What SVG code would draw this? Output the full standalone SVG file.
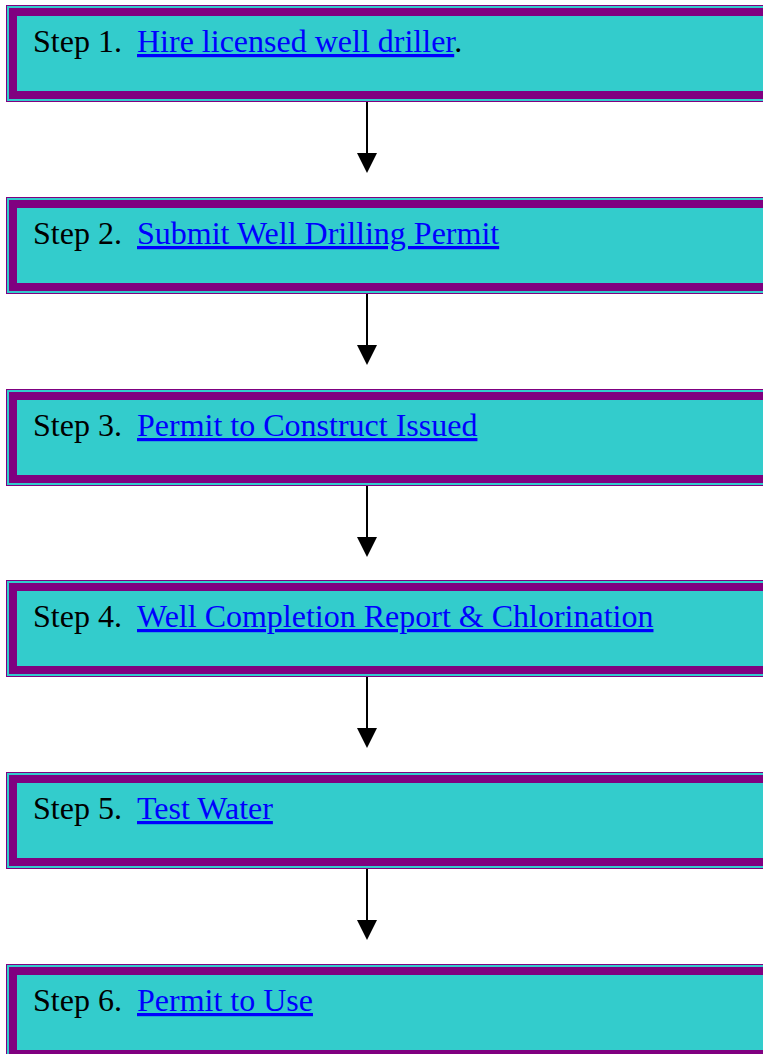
<svg xmlns="http://www.w3.org/2000/svg" width="763" height="1054" viewBox="0 0 763 1054">
<defs>
<style>
.o{fill:#800080}
.c{fill:#33CCCC}
.t{font-family:"Liberation Serif","Times New Roman",serif;font-size:32px;fill:#000}
.l{fill:#0000FF;text-decoration:underline}
.ln{stroke:#000;stroke-width:2;fill:none}
</style>
<g id="frame">
<rect class="o" x="6" y="0" width="800" height="97"/>
<rect class="c" x="7" y="1" width="800" height="95"/>
<rect class="o" x="9" y="3" width="800" height="91"/>
<rect class="c" x="17" y="11" width="800" height="75"/>
</g>
</defs>
<g id="connectors">
<line class="ln" x1="367" y1="102" x2="367" y2="155"/><polygon points="357,153 377,153 367,173"/>
<line class="ln" x1="367" y1="294" x2="367" y2="347"/><polygon points="357,345 377,345 367,365"/>
<line class="ln" x1="367" y1="486" x2="367" y2="539"/><polygon points="357,537 377,537 367,557"/>
<line class="ln" x1="367" y1="677" x2="367" y2="730"/><polygon points="357,728 377,728 367,748"/>
<line class="ln" x1="367" y1="869" x2="367" y2="922"/><polygon points="357,920 377,920 367,940"/>
</g>
<g id="step1"><use href="#frame" y="5"/><text class="t" x="33" y="52">Step 1.</text><text class="t" x="137" y="52"><tspan class="l">Hire licensed well driller</tspan>.</text></g>
<g id="step2"><use href="#frame" y="197"/><text class="t" x="33" y="244">Step 2.</text><text class="t l" x="137" y="244">Submit Well Drilling Permit</text></g>
<g id="step3"><use href="#frame" y="389"/><text class="t" x="33" y="436">Step 3.</text><text class="t l" x="137" y="436">Permit to Construct Issued</text></g>
<g id="step4"><use href="#frame" y="580"/><text class="t" x="33" y="627">Step 4.</text><text class="t l" x="137" y="627">Well Completion Report &amp; Chlorination</text></g>
<g id="step5"><use href="#frame" y="772"/><text class="t" x="33" y="819">Step 5.</text><text class="t l" x="137" y="819">Test Water</text></g>
<g id="step6"><use href="#frame" y="964"/><text class="t" x="33" y="1011">Step 6.</text><text class="t l" x="137" y="1011">Permit to Use</text></g>
</svg>
